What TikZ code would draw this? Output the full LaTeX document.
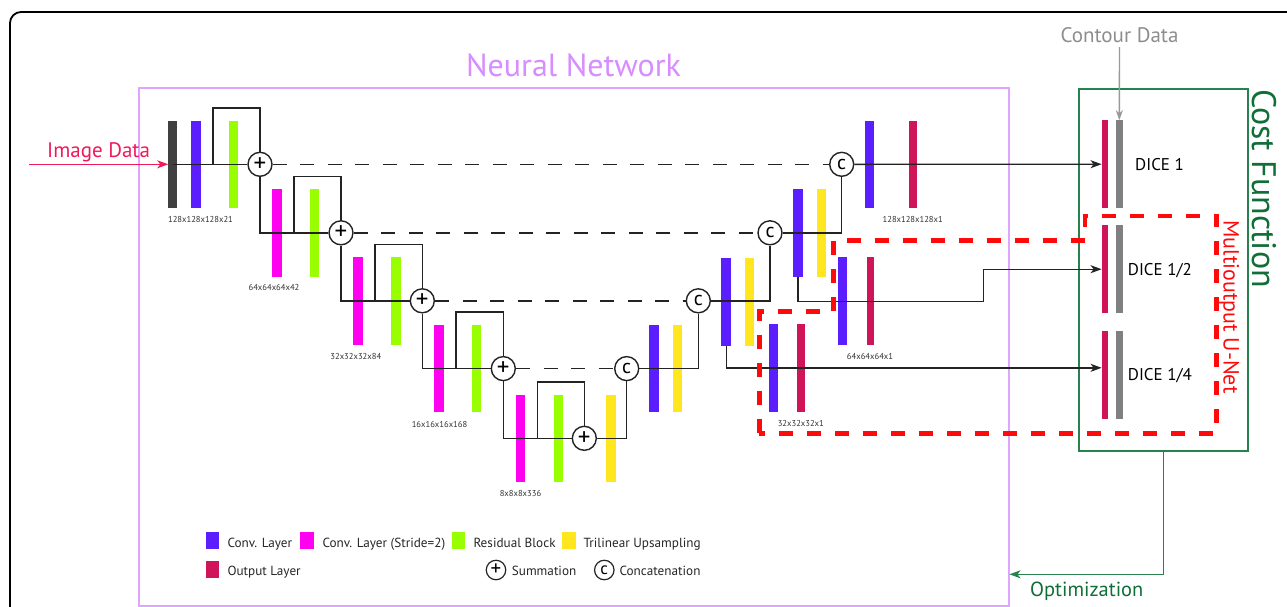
\documentclass[tikz,border=0pt]{standalone}
\usepackage{fontspec}
\setmainfont{PT Sans}
\usetikzlibrary{arrows.meta}

\definecolor{convc}{RGB}{91,31,255}
\definecolor{stridec}{RGB}{255,0,240}
\definecolor{resc}{RGB}{153,255,0}
\definecolor{upc}{RGB}{255,230,30}
\definecolor{outc}{RGB}{208,20,90}
\definecolor{inc}{RGB}{64,64,64}
\definecolor{refc}{RGB}{128,128,128}
\definecolor{nnc}{RGB}{222,165,255}
\definecolor{nntext}{RGB}{215,140,255}
\definecolor{costc}{RGB}{40,130,80}
\definecolor{costtext}{RGB}{16,110,55}
\definecolor{imgc}{RGB}{240,25,90}
\definecolor{mored}{RGB}{255,10,10}
\definecolor{linec}{RGB}{35,35,35}
\definecolor{labc}{RGB}{50,50,50}

\newcommand{\fs}[1]{\fontsize{#1}{#1}\selectfont}

\begin{document}
\begin{tikzpicture}[x=1pt,y=-1pt,
  bar/.style={rectangle, inner sep=0pt, outer sep=0pt, minimum width=9.5pt, minimum height=87.5pt, fill=#1},
  thinbar/.style={bar=#1, minimum width=7.6pt},
  dicebar/.style={bar=#1, minimum width=6.8pt, minimum height=88pt},
  opnode/.style={circle, draw=linec, line width=1.4pt, fill=white, minimum size=24pt, inner sep=0pt, font=\fs{20}},
  plusnode/.style={opnode, font=\fs{25}},
  legop/.style={circle, draw=linec, line width=1.2pt, fill=white, minimum size=19.5pt, inner sep=0pt, font=\fs{17}},
  legplus/.style={legop, font=\fs{21}},
  flow/.style={draw=linec, line width=1.4pt},
  skipline/.style={flow, dash pattern=on 14pt off 13.5pt},
  tip/.style={-{Stealth[length=11pt,width=8pt,inset=3pt]}},
  flowarrow/.style={flow, tip},
  dimlabel/.style={anchor=base, inner sep=0pt, text=labc, font=\fs{8.6}},
  key/.style={rectangle, inner sep=0pt, minimum width=13.5pt, minimum height=17pt, fill=#1},
  keytext/.style={anchor=base west, inner sep=0pt, text=black!85, font=\fs{13.2}},
  dicetext/.style={anchor=base west, inner sep=0pt, text=black, font=\fs{17}}
]
\path[use as bounding box, clip] (0,0) rectangle (1287,606);

% outer frame
\draw[line width=1.8pt, rounded corners=11pt] (10,12) rectangle (1320,640);

% network and cost-function frames
\node[draw=nnc, line width=1.5pt, anchor=north west, minimum width=870pt, minimum height=518pt, inner sep=0pt] (nn) at (138,87) {};
\node[anchor=base, inner sep=0pt, text=nntext, font=\fs{32}] (nntitle) at (573.5,76.7) {Neural Network};
\node[draw=costc, line width=1.5pt, anchor=north west, minimum width=169pt, minimum height=361.7pt, inner sep=0pt] (cost) at (1078.3,88.3) {};
\node[anchor=base, rotate=-90, inner sep=0pt, text=costtext, font=\fs{34}] (costtitle) at (1252,188.5) {Cost Function};

% encoder
\node[bar=inc, minimum width=8.5pt] (inp) at (172.5,164.3) {};
\node[bar=convc] (e1) at (196.2,164.3) {};
\node[bar=resc] (r1) at (233.7,164.3) {};
\node[bar=stridec] (s2) at (277.2,232.8) {};
\node[bar=resc] (r2) at (314.7,232.8) {};
\node[bar=stridec] (s3) at (358,300.8) {};
\node[bar=resc] (r3) at (395.8,300.8) {};
\node[bar=stridec] (s4) at (439.2,368.6) {};
\node[bar=resc] (r4) at (476.7,368.6) {};
\node[bar=stridec] (s5) at (520.7,438.3) {};
\node[bar=resc] (r5) at (558.3,438.3) {};
\node[bar=upc] (u5) at (611,438.3) {};

% decoder
\node[bar=convc] (d4c) at (654.2,368.6) {};
\node[bar=upc] (d4u) at (677.7,368.6) {};
\node[bar=convc] (d3c) at (726.2,302) {};
\node[bar=upc] (d3u) at (749.7,302) {};
\node[bar=convc] (d2c) at (797.8,232.8) {};
\node[bar=upc] (d2u) at (821.5,232.8) {};
\node[bar=convc] (d1c) at (869.7,164.5) {};
\node[thinbar=outc] (o1) at (913,164.5) {};
\node[bar=convc] (h2c) at (842.3,301.2) {};
\node[thinbar=outc] (o2) at (870.5,301.2) {};
\node[bar=convc] (h3c) at (773.3,367.8) {};
\node[thinbar=outc] (o3) at (801.2,367.8) {};

% loss inputs
\node[dicebar=outc] (d1r) at (1105,164.2) {};
\node[dicebar=refc] (d1g) at (1119.3,164.2) {};
\node[dicebar=outc] (d2r) at (1105,269.2) {};
\node[dicebar=refc] (d2g) at (1119.3,269.2) {};
\node[dicebar=outc] (d4r) at (1105,374.5) {};
\node[dicebar=refc] (d4g) at (1119.3,374.5) {};
\node[dicetext] (dice1) at (1135,170) {DICE 1};
\node[dicetext] (dice2) at (1127.7,275) {DICE 1/2};
\node[dicetext] (dice4) at (1127.7,380) {DICE 1/4};

% residual loops start points
\coordinate (k1) at (213,164.3);
\coordinate (k2) at (294,232.8);
\coordinate (k3) at (375,300.8);
\coordinate (k4) at (456,368.6);
\coordinate (k5) at (537.3,438.3);
\coordinate (j2) at (983.3,301.2);
\coordinate (imgsrc) at (29,164.3);
\coordinate (optturn) at (1164.3,574.3);

% summation and concatenation nodes
\node[plusnode] (p1) at (260,164.3) {+};
\node[plusnode] (p2) at (341,232.8) {+};
\node[plusnode] (p3) at (422.3,300.8) {+};
\node[plusnode] (p4) at (503.3,368.6) {+};
\node[plusnode] (p5) at (584.3,438.3) {+};
\node[opnode] (q4) at (626.7,368.6) {c};
\node[opnode] (q3) at (698.3,300.8) {c};
\node[opnode] (q2) at (770,232.8) {c};
\node[opnode] (q1) at (841.7,164.3) {c};

% encoder connections
\draw[flow] (inp.center) -- (p1.west);
\draw[flow] (p1.south) |- (p2.west);
\draw[flow] (p2.south) |- (p3.west);
\draw[flow] (p3.south) |- (p4.west);
\draw[flow] (p4.south) |- (p5.west);
\draw[flow] (k1) -- ++(0,-56.5) -| (p1.north);
\draw[flow] (k2) -- ++(0,-56.5) -| (p2.north);
\draw[flow] (k3) -- ++(0,-56.5) -| (p3.north);
\draw[flow] (k4) -- ++(0,-56.5) -| (p4.north);
\draw[flow] (k5) -- ++(0,-56.5) -| (p5.north);

% skip connections
\draw[skipline] (p1.east) -- (q1.west);
\draw[skipline] (p2.east) -- (q2.west);
\draw[skipline] (p3.east) -- (q3.west);
\draw[skipline] (p4.east) -- (q4.west);

% decoder connections
\draw[flow] (p5.east) -| (q4.south);
\draw[flow] (q4.east) -| (q3.south);
\draw[flow] (q3.east) -| (q2.south);
\draw[flow] (q2.east) -| (q1.south);

% outputs to the loss
\draw[flowarrow] (q1.east) -- (d1r.west);
\draw[flowarrow] (d2c.south) |- (j2) |- (d2r.west);
\draw[flowarrow] (d3c.south) |- (o3.center -| d4r.west);

% image input
\node[anchor=base west, inner sep=0pt, text=imgc, font=\fs{21}] (imgtext) at (47,157) {Image Data};
\draw[draw=imgc, line width=1.4pt, tip] (imgsrc) -- (inp.west);

% contour input
\node[anchor=base, inner sep=0pt, text=refc!90!white, font=\fs{21}] (contour) at (1119.5,42.7) {Contour Data};
\draw[draw=refc!80!white, line width=1.4pt, -{Stealth[length=10pt,width=7pt,inset=3pt]}] (contour.south) ++(0,4) -- (d1g.north);

% optimization feedback
\draw[draw=costc, line width=1.5pt, -{Stealth[length=11pt,width=8pt,inset=3pt]}] (cost.south) |- (nn.east |- optturn);
\node[anchor=base west, inner sep=0pt, text=costtext, font=\fs{20.4}] (opttext) at (1030,596.7) {Optimization};

% size labels
\node[dimlabel] (l1) at (200.5,222.7) {128x128x128x21};
\node[dimlabel] (l2) at (274,290.7) {64x64x64x42};
\node[dimlabel] (l3) at (355.8,359.3) {32x32x32x84};
\node[dimlabel] (l4) at (439.5,427.3) {16x16x16x168};
\node[dimlabel] (l5) at (520.5,496.7) {8x8x8x336};
\node[dimlabel] (l6) at (912.7,222.7) {128x128x128x1};
\node[dimlabel] (l7) at (870,359.3) {64x64x64x1};
\node[dimlabel] (l8) at (800.8,426) {32x32x32x1};

% multi-output region
\draw[mored, line width=4.5pt, dash pattern=on 14pt off 14pt]
  (759.3,433.3) -- (759.3,311.7) -- (833.3,311.7) -- (833.3,240.7) -- (1085,240.7)
  -- (1085,216) -- (1216.7,216) -- (1216.7,433.3) -- cycle;
\node[anchor=base, rotate=-90, inner sep=0pt, text=mored, font=\fs{22}] (multi) at (1223.5,307) {Multioutput U-Net};

% legend
\node[key=convc] (kc) at (212.7,540.3) {};
\node[keytext] (tc) at (227.3,547.5) {Conv. Layer};
\node[key=stridec] (ks) at (307,540.3) {};
\node[keytext] (ts) at (322.3,547.5) {Conv. Layer (Stride=2)};
\node[key=resc] (kr) at (458.5,540.3) {};
\node[keytext] (tr) at (473.3,547.5) {Residual Block};
\node[key=upc] (ku) at (569,540.3) {};
\node[keytext] (tu) at (583.3,547.5) {Trilinear Upsampling};
\node[key=outc] (ko) at (212.7,569.7) {};
\node[keytext] (to) at (227.3,575.5) {Output Layer};
\node[legplus] (lp) at (496,570) {+};
\node[keytext] (tp) at (511.7,575.5) {Summation};
\node[legop] (lcc) at (604.3,570) {c};
\node[keytext] (tcc) at (619.3,575.5) {Concatenation};
\end{tikzpicture}
\end{document}
